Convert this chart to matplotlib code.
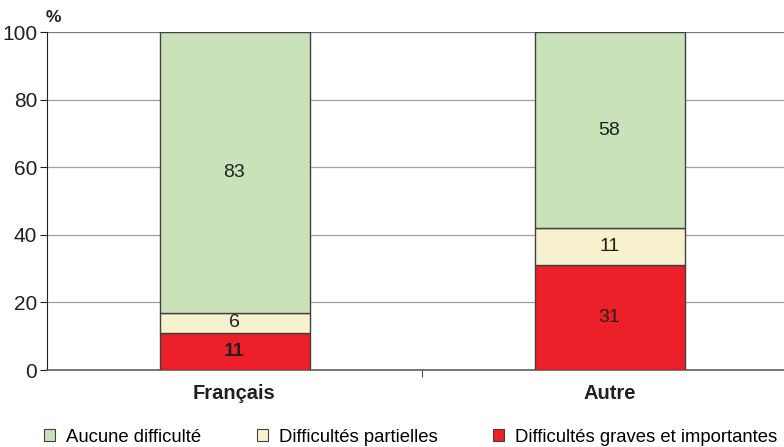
import numpy as np
import matplotlib.pyplot as plt
from matplotlib.patches import Patch

categories = ['Français', 'Autre']
graves = [11, 31]
partielles = [6, 11]
aucune = [83, 58]
series_names = ['Aucune difficulté', 'Difficultés partielles', 'Difficultés graves et importantes']
colors = ['#c9e2b9', '#f7f2cd', '#ed1f28']
bold_labels = [[True, False], [False, False], [False, False]]

plt.rcParams['font.family'] = ['Liberation Sans', 'DejaVu Sans']

fig = plt.figure(figsize=(7.84, 4.47), dpi=100)
ax = fig.add_axes([47 / 784, 1 - 370 / 447, 750 / 784, 338 / 447])

x = np.arange(len(categories))
w = 0.4
stack = [graves, partielles, aucune]
order_colors = [colors[2], colors[1], colors[0]]
bottom = np.zeros(len(categories))
for i, vals in enumerate(stack):
    vals = np.array(vals)
    ax.bar(x, vals, w, bottom=bottom, color=order_colors[i], edgecolor='#404040',
           linewidth=1.0, zorder=3)
    for j, v in enumerate(vals):
        ax.text(x[j], bottom[j] + v / 2, str(v), ha='center', va='center',
                fontsize=14, color='#231f20',
                fontweight='bold' if bold_labels[i][j] else 'normal', zorder=4)
    bottom += vals

ax.set_xlim(-0.5, 1.5)
ax.set_ylim(0, 100)
ax.set_yticks(np.arange(0, 101, 20))
ax.tick_params(axis='y', labelsize=15, length=5, pad=2, color='#231f20', labelcolor='#231f20')
ax.grid(axis='y', color='#a0a0a0', linewidth=0.9, zorder=0)
ax.set_xticks([0.5])
ax.set_xticklabels([''])
ax.tick_params(axis='x', length=5, color='#505050')
for xi, c in zip(x, categories):
    ax.text(xi, -4.0, c, ha='center', va='top', fontsize=14.5, fontweight='bold',
            color='#231f20')

for s in ['top', 'right']:
    ax.spines[s].set_visible(False)
ax.spines['left'].set_color('#231f20')
ax.spines['bottom'].set_color('#606060')
ax.spines['bottom'].set_linewidth(1.2)
ax.axhline(100, color='#707070', linewidth=1.2, zorder=2)

fig.text(53 / 784, 1 - 18 / 447, '%', fontsize=12.5, fontweight='bold', ha='center', va='center',
         color='#231f20')

handles = [Patch(facecolor=c, edgecolor='#404040', linewidth=0.8) for c in colors]
fig.legend(handles, series_names, loc='center left', bbox_to_anchor=(44 / 784, 1 - 437 / 447),
           ncol=3, frameon=False, fontsize=13.3, handlelength=0.6, handleheight=0.6,
           columnspacing=3.0, handletextpad=0.6, borderpad=0, borderaxespad=0)

fig.savefig('out.png', dpi=100)
